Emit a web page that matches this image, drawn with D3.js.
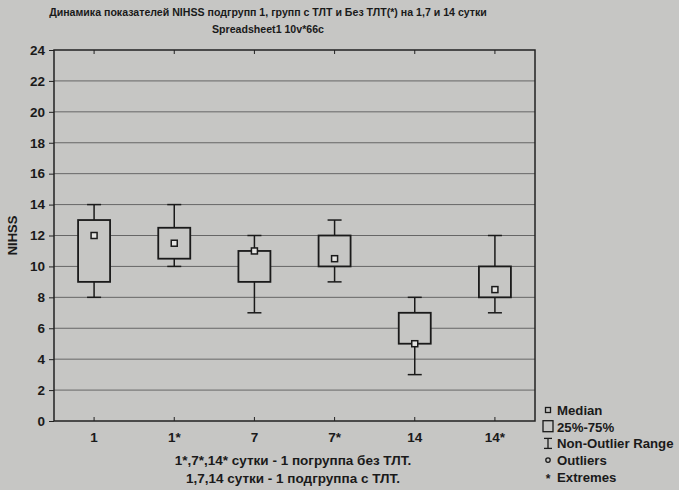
<!DOCTYPE html>
<html>
<head>
<meta charset="utf-8">
<script src="https://cdn.jsdelivr.net/npm/d3@7"></script>
<style>
  body { margin: 0; background: #c6c6c4; }
  text { font-family: "Liberation Sans Narrow", "Liberation Sans", Arial, sans-serif; fill: #1a1a1a; }
</style>
</head>
<body>
<svg id="chart" width="679" height="490"></svg>
<script>
const categories = ["1", "1*", "7", "7*", "14", "14*"];
const mins    = [8, 10, 7, 9, 3, 7];
const q1s     = [9, 10.5, 9, 10, 5, 8];
const medians = [12, 11.5, 11, 10.5, 5, 8.5];
const q3s     = [13, 12.5, 11, 12, 7, 10];
const maxs    = [14, 14, 12, 13, 8, 12];
const yTicks  = [0, 2, 4, 6, 8, 10, 12, 14, 16, 18, 20, 22, 24];
const legendItems = ["Median", "25%-75%", "Non-Outlier Range", "Outliers", "Extremes"];

const svg = d3.select("#chart");
const width = +svg.attr("width");
const height = +svg.attr("height");

const plot = { left: 54, right: 535, top: 50, bottom: 421 };

const x = d3.scaleBand()
  .domain(categories)
  .range([plot.left, plot.right]);

const y = d3.scaleLinear()
  .domain([0, 24])
  .range([plot.bottom, plot.top]);

const boxes = categories.map((c, i) => ({
  cat: c, min: mins[i], q1: q1s[i], med: medians[i], q3: q3s[i], max: maxs[i]
}));

// background
svg.append("rect")
  .attr("width", width)
  .attr("height", height)
  .attr("fill", "#c6c6c4");

// gridlines
svg.append("g")
  .selectAll("line")
  .data(yTicks.slice(1, -1))
  .enter()
  .append("line")
  .attr("x1", plot.left)
  .attr("x2", plot.right)
  .attr("y1", d => y(d))
  .attr("y2", d => y(d))
  .attr("stroke", "#666")
  .attr("stroke-width", 1);

// plot frame
svg.append("rect")
  .attr("x", plot.left)
  .attr("y", plot.top)
  .attr("width", plot.right - plot.left)
  .attr("height", plot.bottom - plot.top)
  .attr("fill", "none")
  .attr("stroke", "#222")
  .attr("stroke-width", 1.5);

// y axis
const yAxis = svg.append("g")
  .attr("transform", "translate(" + plot.left + ",0)")
  .call(d3.axisLeft(y).tickValues(yTicks).tickSize(5).tickPadding(4));
yAxis.select(".domain").remove();
yAxis.selectAll("line").attr("stroke", "#222");
yAxis.selectAll("text")
  .attr("font-size", "13.5px")
  .attr("font-weight", "bold")
  .style("font-family", "'Liberation Sans Narrow', Arial, sans-serif")
  .attr("fill", "#1a1a1a");

// x axis
const xAxis = svg.append("g")
  .attr("transform", "translate(0," + plot.bottom + ")")
  .call(d3.axisBottom(x).tickSize(-4).tickPadding(11));
xAxis.select(".domain").remove();
xAxis.selectAll("line").attr("stroke", "#222");
xAxis.selectAll("text")
  .attr("font-size", "13.5px")
  .attr("font-weight", "bold")
  .style("font-family", "'Liberation Sans Narrow', Arial, sans-serif")
  .attr("fill", "#1a1a1a");

// top ticks
svg.append("g")
  .selectAll("line")
  .data(categories)
  .enter()
  .append("line")
  .attr("x1", d => x(d) + x.bandwidth() / 2)
  .attr("x2", d => x(d) + x.bandwidth() / 2)
  .attr("y1", plot.top)
  .attr("y2", plot.top + 4)
  .attr("stroke", "#222");

// boxes
const boxWidth = 32;
const capWidth = 14;
const g = svg.append("g");
const cx = d => x(d.cat) + x.bandwidth() / 2;

g.selectAll(".whisker")
  .data(boxes)
  .enter()
  .append("line")
  .attr("x1", cx)
  .attr("x2", cx)
  .attr("y1", d => y(d.min))
  .attr("y2", d => y(d.max))
  .attr("stroke", "#1a1a1a")
  .attr("stroke-width", 1.5);

g.selectAll(".cap-top")
  .data(boxes)
  .enter()
  .append("line")
  .attr("x1", d => cx(d) - capWidth / 2)
  .attr("x2", d => cx(d) + capWidth / 2)
  .attr("y1", d => y(d.max))
  .attr("y2", d => y(d.max))
  .attr("stroke", "#1a1a1a")
  .attr("stroke-width", 1.5);

g.selectAll(".cap-bottom")
  .data(boxes)
  .enter()
  .append("line")
  .attr("x1", d => cx(d) - capWidth / 2)
  .attr("x2", d => cx(d) + capWidth / 2)
  .attr("y1", d => y(d.min))
  .attr("y2", d => y(d.min))
  .attr("stroke", "#1a1a1a")
  .attr("stroke-width", 1.5);

g.selectAll(".box")
  .data(boxes)
  .enter()
  .append("rect")
  .attr("x", d => cx(d) - boxWidth / 2)
  .attr("y", d => y(d.q3))
  .attr("width", boxWidth)
  .attr("height", d => y(d.q1) - y(d.q3))
  .attr("fill", "#c6c6c4")
  .attr("stroke", "#1a1a1a")
  .attr("stroke-width", 1.8);

g.selectAll(".median")
  .data(boxes)
  .enter()
  .append("rect")
  .attr("x", d => cx(d) - 3)
  .attr("y", d => y(d.med) - 3)
  .attr("width", 6)
  .attr("height", 6)
  .attr("fill", "#e4e4e2")
  .attr("stroke", "#1a1a1a")
  .attr("stroke-width", 1.5);

// title
svg.append("text")
  .attr("x", 268)
  .attr("y", 16)
  .attr("text-anchor", "middle")
  .attr("font-size", "10.6px")
  .attr("font-weight", "bold")
  .text("Динамика показателей NIHSS подгрупп 1, групп с ТЛТ и Без ТЛТ(*) на 1,7 и 14 сутки");

svg.append("text")
  .attr("x", 268)
  .attr("y", 33)
  .attr("text-anchor", "middle")
  .attr("font-size", "10.6px")
  .attr("font-weight", "bold")
  .text("Spreadsheet1 10v*66c");

// y label
svg.append("text")
  .attr("transform", "translate(17," + ((plot.top + plot.bottom) / 2) + ") rotate(-90)")
  .attr("text-anchor", "middle")
  .attr("font-size", "13px")
  .attr("font-weight", "bold")
  .text("NIHSS");

// footnote
svg.append("text")
  .attr("x", 293)
  .attr("y", 465)
  .attr("text-anchor", "middle")
  .attr("font-size", "13.5px")
  .attr("font-weight", "bold")
  .text("1*,7*,14* сутки - 1 погруппа без ТЛТ.");

svg.append("text")
  .attr("x", 293)
  .attr("y", 483)
  .attr("text-anchor", "middle")
  .attr("font-size", "13.5px")
  .attr("font-weight", "bold")
  .text("1,7,14 сутки - 1 подгруппа с ТЛТ.");

// legend
const legendX = 548;
const legendY = 410;
const legendStep = 16.7;
const lg = svg.append("g");

lg.selectAll("text")
  .data(legendItems)
  .enter()
  .append("text")
  .attr("x", legendX + 9)
  .attr("y", (d, i) => legendY + i * legendStep + 5)
  .attr("font-size", "13.2px")
  .attr("font-weight", "bold")
  .text(d => d);

// median symbol
lg.append("rect")
  .attr("x", legendX - 2.5)
  .attr("y", legendY - 2.5)
  .attr("width", 5)
  .attr("height", 5)
  .attr("fill", "none")
  .attr("stroke", "#1a1a1a")
  .attr("stroke-width", 1.3);

// box symbol
lg.append("rect")
  .attr("x", legendX - 5)
  .attr("y", legendY + legendStep - 6)
  .attr("width", 10)
  .attr("height", 11)
  .attr("fill", "none")
  .attr("stroke", "#1a1a1a")
  .attr("stroke-width", 1.3);

// whisker symbol
const wy = legendY + legendStep * 2;
lg.append("line").attr("x1", legendX).attr("x2", legendX).attr("y1", wy - 5).attr("y2", wy + 5)
  .attr("stroke", "#1a1a1a").attr("stroke-width", 1.3);
lg.append("line").attr("x1", legendX - 4).attr("x2", legendX + 4).attr("y1", wy - 5).attr("y2", wy - 5)
  .attr("stroke", "#1a1a1a").attr("stroke-width", 1.3);
lg.append("line").attr("x1", legendX - 4).attr("x2", legendX + 4).attr("y1", wy + 5).attr("y2", wy + 5)
  .attr("stroke", "#1a1a1a").attr("stroke-width", 1.3);

// outlier symbol
lg.append("circle")
  .attr("cx", legendX)
  .attr("cy", legendY + legendStep * 3)
  .attr("r", 2.2)
  .attr("fill", "none")
  .attr("stroke", "#1a1a1a")
  .attr("stroke-width", 1.3);

// extremes symbol
lg.append("text")
  .attr("x", legendX)
  .attr("y", legendY + legendStep * 4 + 6)
  .attr("text-anchor", "middle")
  .attr("font-size", "12px")
  .attr("font-weight", "bold")
  .text("*");
</script>
</body>
</html>
